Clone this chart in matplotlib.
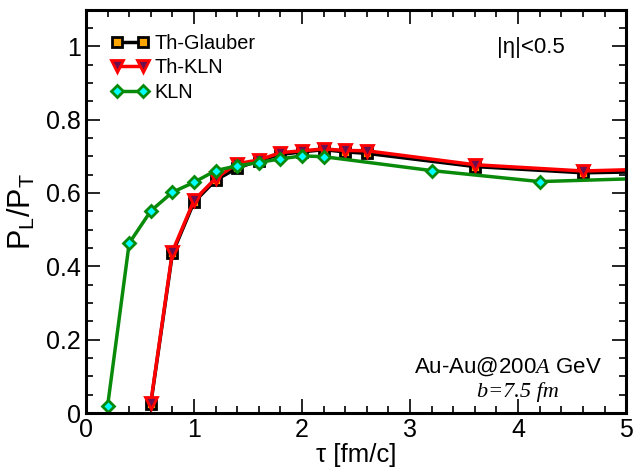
import matplotlib

matplotlib.use("Agg")

import matplotlib.pyplot as plt
from matplotlib.ticker import MultipleLocator

plt.rcParams["font.family"] = ["Liberation Sans", "DejaVu Sans"]
plt.rcParams["mathtext.fontset"] = "custom"
plt.rcParams["mathtext.rm"] = "Liberation Sans"
plt.rcParams["mathtext.it"] = "Liberation Serif:italic"

# tau values (fm/c); last point lies past the frame so the line runs to the edge
tau_th = [0.6, 0.8, 1.0, 1.2, 1.4, 1.6, 1.8, 2.0, 2.2, 2.4, 2.6, 3.6, 4.6, 5.6]
glauber = [0.025, 0.435, 0.575, 0.635, 0.668, 0.688, 0.705, 0.712, 0.718, 0.712, 0.708, 0.672, 0.655, 0.660]
th_kln = [0.028, 0.440, 0.580, 0.640, 0.680, 0.690, 0.710, 0.715, 0.720, 0.716, 0.715, 0.677, 0.660, 0.668]

tau_kln = [0.2, 0.4, 0.6, 0.8, 1.0, 1.2, 1.4, 1.6, 1.8, 2.0, 2.2, 3.2, 4.2, 5.2]
kln = [0.019, 0.463, 0.551, 0.602, 0.629, 0.661, 0.674, 0.683, 0.693, 0.701, 0.699, 0.661, 0.631, 0.640]

fig = plt.figure(figsize=(6.34, 4.68), dpi=100)
ax = fig.add_axes([0.1356, 0.1175, 0.852, 0.862])

ax.plot(tau_th, glauber, color="black", lw=2.5, marker="s", ms=7.5,
        mfc="#ffa500", mec="black", mew=2, label="Th-Glauber")
ax.plot(tau_th, th_kln, color="red", lw=2.5, marker="v", ms=8.5,
        mfc="#6a1050", mec="red", mew=2, label="Th-KLN")
ax.plot(tau_kln, kln, color="#0a8a0a", lw=2.5, marker="D", ms=6.5,
        mfc="cyan", mec="#0a8a0a", mew=2, label="KLN")

ax.set_xlim(0, 5)
ax.set_ylim(0, 1.1)
ax.xaxis.set_minor_locator(MultipleLocator(0.2))
ax.yaxis.set_minor_locator(MultipleLocator(0.05))
ax.set_xticks([0, 1, 2, 3, 4, 5])
ax.set_xticklabels(["0", "1", "2", "3", "4", "5"])
ax.set_yticks([0, 0.2, 0.4, 0.6, 0.8, 1.0])
ax.set_yticklabels(["0", "0.2", "0.4", "0.6", "0.8", "1"])

ax.tick_params(which="both", direction="in", top=True, right=True, labelsize=18, width=1.2)
ax.tick_params(which="major", length=10)
ax.tick_params(which="minor", length=5)
for side in ax.spines.values():
    side.set_linewidth(2.2)

ax.set_xlabel("\u03c4 [fm/c]", fontsize=18.5, labelpad=1)
ax.set_ylabel(r"P$_\mathrm{L}$/P$_\mathrm{T}$", fontsize=22, labelpad=6)

ax.legend(loc="upper left", bbox_to_anchor=(0.025, 0.97), frameon=False,
          fontsize=14.3, numpoints=2, handlelength=1.9, handletextpad=0.25,
          labelspacing=0.28, borderaxespad=0.2)

ax.text(0.887, 0.907, "|\u03b7|<0.5", transform=ax.transAxes, fontsize=16,
        ha="right", va="center")
ax.text(0.955, 0.114, "Au-Au@200$\\mathit{A}$ GeV", transform=ax.transAxes,
        fontsize=16, ha="right", va="center")
ax.text(0.876, 0.052, "b=7.5 fm", transform=ax.transAxes, fontsize=16,
        ha="right", va="center", family="Liberation Serif", style="italic")

fig.savefig("out.png", dpi=100)
